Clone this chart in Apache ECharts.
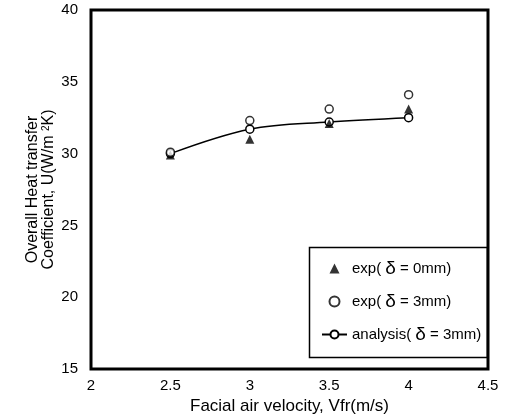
<!DOCTYPE html>
<html>
<head>
<meta charset="utf-8">
<script src="https://cdn.jsdelivr.net/npm/echarts@6/dist/echarts.min.js"></script>
<style>
  html, body { margin: 0; padding: 0; background: #fff; }
  #chart { width: 511px; height: 417px; }
</style>
</head>
<body>
<div id="chart"></div>
<script>
  // 数据 - 从图上读出来的
  const velocity = [2.5, 3, 3.5, 4];
  const expZero = [29.9, 31.0, 32.1, 33.1];   // exp(δ=0mm) 实心三角
  const expThree = [30.1, 32.3, 33.1, 34.1];  // exp(δ=3mm) 空心圆
  const analysis = [30.0, 31.7, 32.2, 32.5];  // analysis(δ=3mm) 带圆点的曲线
  const xTicks = [2, 2.5, 3, 3.5, 4, 4.5];
  const yTicks = [15, 20, 25, 30, 35, 40];

  const pair = (xs, ys) => xs.map((x, i) => [x, ys[i]]);

  const font = 'Liberation Sans, Arial, sans-serif';
  const triIcon = 'path://M0,10 L5,0 L10,10 Z'; // 图例用的三角(不拉伸)
  let myChart = echarts.init(document.getElementById('chart'), null, { renderer: 'canvas' });

  let option = {
    animation: false,
    textStyle: { fontFamily: font, color: '#000' },
    grid: {
      left: 91, right: 23, top: 10, bottom: 48,
      outerBoundsMode: 'none',
      show: true, borderColor: '#000', borderWidth: 3
    },
    xAxis: {
      type: 'value',
      min: xTicks[0], max: xTicks[xTicks.length - 1], interval: 0.5,
      axisLine: { show: false },
      axisTick: { show: false },
      splitLine: { show: false },
      axisLabel: { color: '#000', fontSize: 15, fontFamily: font, margin: 9 },
      name: 'Facial air velocity, Vfr(m/s)',
      nameLocation: 'middle',
      nameGap: 29,
      nameMoveOverlap: false,
      nameTextStyle: { fontSize: 17, color: '#000', fontFamily: font }
    },
    yAxis: {
      type: 'value',
      min: yTicks[0], max: yTicks[yTicks.length - 1], interval: 5,
      axisLine: { show: false },
      axisTick: { show: false },
      splitLine: { show: false },
      axisLabel: { color: '#000', fontSize: 15, fontFamily: font, margin: 13 },
      name: 'Overall Heat transfer\nCoefficient, U(W/m {sup|2}K)',
      nameLocation: 'middle',
      nameGap: 34,
      nameMoveOverlap: false,
      nameTextStyle: {
        fontSize: 16, color: '#000', fontFamily: font, lineHeight: 16,
        rich: { sup: { fontSize: 10, verticalAlign: 'top', lineHeight: 16 } }
      }
    },
    legend: {
      show: true,
      orient: 'vertical',
      left: 316,
      top: 254,
      itemWidth: 25,
      itemHeight: 10,
      itemGap: 14,
      textStyle: {
        fontSize: 15, color: '#000', fontFamily: font,
        rich: { d: { fontSize: 19, fontFamily: font, color: '#000' } }
      },
      formatter: (name) => name.replace('δ', '{d|δ}'),
      data: [
        { name: 'exp( δ = 0mm)', icon: triIcon },
        'exp( δ = 3mm)',
        'analysis( δ = 3mm)'
      ]
    },
    graphic: {
      elements: [
        {
          // 图例外框
          type: 'rect',
          left: 307, top: 245,
          shape: { width: 178, height: 110 },
          style: { fill: 'none', stroke: '#000', lineWidth: 1.5 },
          z: 100
        }
      ]
    },
    series: [
      {
        name: 'analysis( δ = 3mm)',
        type: 'line',
        smooth: 0.35,
        data: pair(velocity, analysis),
        symbol: 'circle',
        symbolSize: 8,
        lineStyle: { color: '#000', width: 1.5 },
        itemStyle: { color: '#fff', borderColor: '#000', borderWidth: 1.5 },
        z: 3
      },
      {
        name: 'exp( δ = 0mm)',
        type: 'scatter',
        data: pair(velocity, expZero),
        symbol: 'triangle',
        symbolSize: 9,
        itemStyle: { color: '#000' },
        z: 4
      },
      {
        name: 'exp( δ = 3mm)',
        type: 'scatter',
        data: pair(velocity, expThree),
        symbol: 'circle',
        symbolSize: 8,
        itemStyle: { color: '#fff', borderColor: '#000', borderWidth: 1.5 },
        z: 5
      }
    ]
  };
  myChart.setOption(option);
</script>
</body>
</html>
